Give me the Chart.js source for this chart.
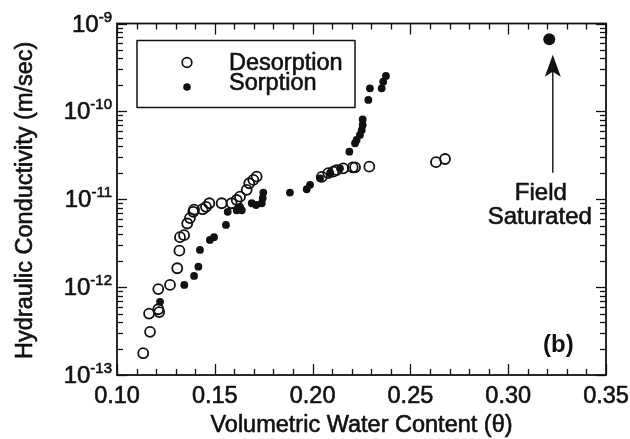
<!DOCTYPE html>
<html><head><meta charset="utf-8">
<script src="https://cdn.jsdelivr.net/npm/chart.js@4/dist/chart.umd.min.js"></script>
<style>html,body{margin:0;padding:0;background:#fff;}#wrap{width:630px;height:439px;}</style>
</head><body><div id="wrap"><canvas id="c" width="630" height="439"></canvas></div>
<script>
// ---- data ----
const desorptionTheta = [0.1134,0.1169,0.1164,0.1211,0.1216,0.1211,0.1271,0.1308,0.1319,0.1322,0.1343,0.1359,0.1373,0.1390,0.1394,0.1438,0.1455,0.1472,0.1535,0.1586,0.1612,0.1629,0.1663,0.1676,0.1697,0.1714,0.2047,0.2080,0.2106,0.2123,0.2157,0.2205,0.2217,0.2290,0.2631,0.2677];
const desorptionK = [1.77e-13,3.1e-13,5.0e-13,5.6e-13,5.2e-13,9.5e-13,1.06e-12,1.64e-12,2.6e-12,3.7e-12,3.9e-12,5.3e-12,6.1e-12,7.2e-12,7.6e-12,7.7e-12,8.2e-12,9.0e-12,9.0e-12,9.0e-12,9.8e-12,1.07e-11,1.28e-11,1.52e-11,1.66e-11,1.81e-11,1.8e-11,1.98e-11,2.06e-11,2.15e-11,2.25e-11,2.31e-11,2.31e-11,2.35e-11,2.64e-11,2.87e-11];
const sorptionTheta = [0.1220,0.1344,0.1394,0.1416,0.1424,0.1475,0.1496,0.1557,0.1566,0.1612,0.1629,0.1638,0.1689,0.1711,0.1740,0.1745,0.1748,0.1884,0.1970,0.1987,0.2038,0.2089,0.2140,0.2188,0.2217,0.2225,0.2242,0.2251,0.2256,0.2256,0.2285,0.2293,0.2353,0.2361,0.2375];
const sorptionK = [6.8e-13,1.06e-12,1.34e-12,1.71e-12,2.65e-12,3.44e-12,3.7e-12,5.1e-12,7.2e-12,7.5e-12,8.2e-12,7.5e-12,9.0e-12,8.6e-12,9.0e-12,1.03e-11,1.19e-11,1.19e-11,1.30e-11,1.46e-11,1.73e-11,1.98e-11,2.25e-11,3.48e-11,4.34e-11,4.73e-11,5.4e-11,6.1e-11,7.0e-11,8.1e-11,1.35e-10,1.83e-10,1.83e-10,2.18e-10,2.53e-10];
const fieldTheta = [0.321];
const fieldK = [6.6e-10];
const seriesNames = ['Desorption','Sorption'];
const xTickValues = [0.10,0.15,0.20,0.25,0.30,0.35];
const xTickLabels = ['0.10','0.15','0.20','0.25','0.30','0.35'];
const yTickValues = [1e-13,1e-12,1e-11,1e-10,1e-9];
const yTickBases = ['10','10','10','10','10'];
const yTickExponents = ['-13','-12','-11','-10','-9'];
const xTitle = 'Volumetric Water Content (\u03b8)';
const yTitle = 'Hydraulic Conductivity (m/sec)';
const fieldNote = ['Field','Saturated'];
const panelTag = '(b)';
const arrowTheta = 0.3228, arrowFromK = 2.0e-11, arrowToK = 4.4e-10;

const FONT = "'Liberation Sans', Arial, Helvetica, sans-serif";
const INK = '#111';

const toPts = (xs, ys) => xs.map((v, i) => ({x: v, y: ys[i]}));

// text drawn slightly heavier, like the scanned original
function heavyText(ctx, s, px, py) {
  ctx.fillText(s, px, py);
  ctx.strokeText(s, px, py);
}

const decor = {
  id: 'decor',
  beforeDatasetsDraw(chart) {
    const {ctx, chartArea: a, scales: {x, y}} = chart;
    ctx.save();
    ctx.strokeStyle = INK;
    ctx.lineWidth = 1.3;
    const seg = (x1, y1, x2, y2) => { ctx.beginPath(); ctx.moveTo(x1, y1); ctx.lineTo(x2, y2); ctx.stroke(); };
    const nx = Math.round((x.max - x.min) / 0.01);
    for (let i = 0; i <= nx; i++) {
      const v = x.min + i * 0.01;
      const px = Math.round(x.getPixelForValue(v)) + 0.5;
      const len = i % 5 === 0 ? 11 : 6;
      seg(px, a.bottom, px, a.bottom - len);
      seg(px, a.top, px, a.top + len);
    }
    for (let e = -13; e <= -9; e++) {
      for (let m = 1; m <= 9; m++) {
        const v = m * Math.pow(10, e);
        if (v > y.max * 1.0001) break;
        const py = Math.round(y.getPixelForValue(v)) + 0.5;
        const len = m === 1 ? 10 : 6;
        seg(a.left, py, a.left + len, py);
        seg(a.right, py, a.right - len, py);
      }
    }
    ctx.lineWidth = 1.8;
    ctx.strokeRect(a.left, a.top, a.right - a.left, a.bottom - a.top);
    ctx.restore();
  },
  afterDraw(chart) {
    const {ctx, chartArea: a, scales: {x, y}} = chart;
    ctx.save();
    ctx.fillStyle = INK;
    ctx.strokeStyle = INK;
    ctx.lineWidth = 0.6;
    ctx.lineJoin = 'round';
    ctx.font = '23.5px ' + FONT;
    ctx.textAlign = 'center';
    ctx.textBaseline = 'alphabetic';
    xTickValues.forEach((v, i) => heavyText(ctx, xTickLabels[i], x.getPixelForValue(v), a.bottom + 28));
    yTickValues.forEach((v, i) => {
      const py = y.getPixelForValue(v);
      ctx.textAlign = 'right';
      ctx.font = '15px ' + FONT;
      heavyText(ctx, yTickExponents[i], a.left - 5, py - 2);
      const w = ctx.measureText(yTickExponents[i]).width;
      ctx.font = '24px ' + FONT;
      heavyText(ctx, yTickBases[i], a.left - 5 - w, py + 8);
    });
    ctx.font = '23.5px ' + FONT;
    ctx.textAlign = 'center';
    heavyText(ctx, xTitle, (a.left + a.right) / 2, a.bottom + 57);
    ctx.save();
    ctx.translate(32, (a.top + a.bottom) / 2 + 1);
    ctx.rotate(-Math.PI / 2);
    heavyText(ctx, yTitle, 0, 0);
    ctx.restore();
    // legend
    ctx.lineWidth = 1.5;
    ctx.strokeRect(a.left + 20, a.top + 17, 218, 67);
    ctx.beginPath(); ctx.arc(a.left + 70, a.top + 39, 4.8, 0, Math.PI * 2); ctx.lineWidth = 1.7; ctx.stroke();
    ctx.beginPath(); ctx.arc(a.left + 70, a.top + 63.5, 3.8, 0, Math.PI * 2); ctx.fill();
    ctx.lineWidth = 0.6;
    ctx.textAlign = 'left';
    ctx.font = '23.5px ' + FONT;
    heavyText(ctx, seriesNames[0], a.left + 112, a.top + 46.5);
    heavyText(ctx, seriesNames[1], a.left + 112, a.top + 66.5);
    // arrow to field saturated point
    const ax = x.getPixelForValue(arrowTheta);
    const y0 = y.getPixelForValue(arrowFromK);
    const y1 = y.getPixelForValue(arrowToK);
    ctx.lineWidth = 1.4;
    ctx.beginPath(); ctx.moveTo(ax, y0); ctx.lineTo(ax, y1 + 16); ctx.stroke();
    ctx.beginPath();
    ctx.moveTo(ax, y1); ctx.lineTo(ax - 8, y1 + 22); ctx.lineTo(ax, y1 + 17); ctx.lineTo(ax + 8, y1 + 22); ctx.closePath(); ctx.fill();
    ctx.lineWidth = 0.6;
    ctx.textAlign = 'center';
    ctx.font = '24px ' + FONT;
    heavyText(ctx, fieldNote[0], ax - 12, y0 + 27);
    heavyText(ctx, fieldNote[1], ax - 13, y0 + 51);
    ctx.font = 'bold 24px ' + FONT;
    ctx.textAlign = 'left';
    ctx.fillText(panelTag, a.right - 63, a.bottom - 23);
    ctx.restore();
  }
};

new Chart(document.getElementById('c'), {
  type: 'scatter',
  data: {
    datasets: [
      {label: seriesNames[0], data: toPts(desorptionTheta, desorptionK), pointStyle: 'circle', pointRadius: 5, pointBorderWidth: 1.8, borderColor: INK, backgroundColor: 'rgba(255,255,255,0)'},
      {label: seriesNames[1], data: toPts(sorptionTheta, sorptionK), pointStyle: 'circle', pointRadius: 3.9, pointBorderWidth: 0, borderColor: INK, backgroundColor: INK},
      {label: 'Field Saturated', data: toPts(fieldTheta, fieldK), pointStyle: 'circle', pointRadius: 6, pointBorderWidth: 0, borderColor: INK, backgroundColor: INK}
    ]
  },
  options: {
    responsive: false,
    animation: false,
    devicePixelRatio: 1,
    layout: {padding: {left: 117, right: 24, top: 23.5, bottom: 64}},
    plugins: {legend: {display: false}, tooltip: {enabled: false}, title: {display: false}},
    scales: {
      x: {type: 'linear', min: 0.10, max: 0.35, ticks: {display: false}, grid: {display: false}, border: {display: false}, afterFit: s => { s.height = 0; }},
      y: {type: 'logarithmic', min: 1e-13, max: 1e-9, ticks: {display: false}, grid: {display: false}, border: {display: false}, afterFit: s => { s.width = 0; }}
    }
  },
  plugins: [decor]
});
</script>
</body></html>
